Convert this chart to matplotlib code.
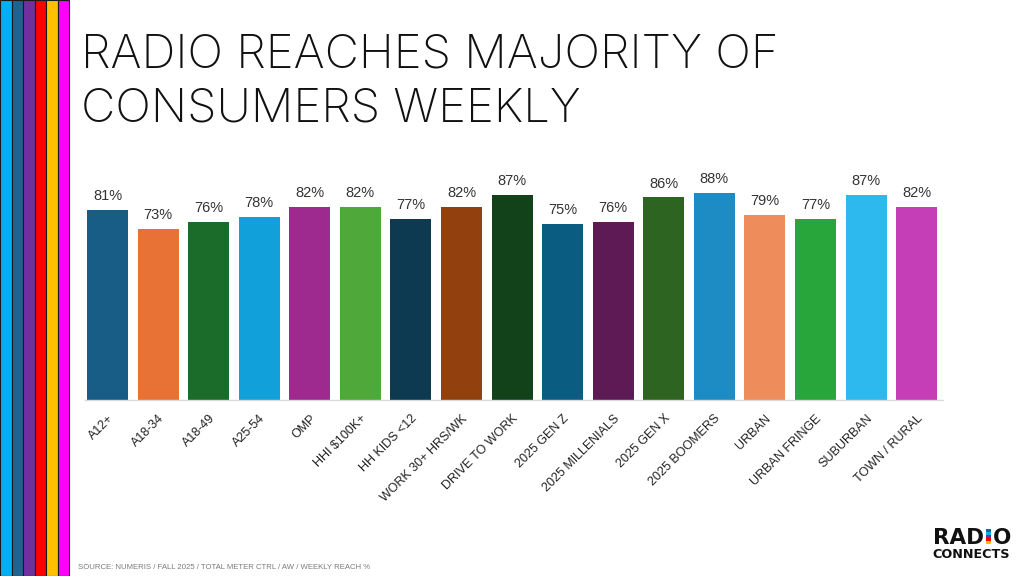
import matplotlib.pyplot as plt
from matplotlib.patches import Rectangle

categories = ['A12+', 'A18-34', 'A18-49', 'A25-54', 'OMP', 'HHI $100K+', 'HH KIDS <12',
              'WORK 30+ HRS/WK', 'DRIVE TO WORK', '2025 GEN Z', '2025 MILLENIALS',
              '2025 GEN X', '2025 BOOMERS', 'URBAN', 'URBAN FRINGE', 'SUBURBAN', 'TOWN / RURAL']
reach = [81, 73, 76, 78, 82, 82, 77, 82, 87, 75, 76, 86, 88, 79, 77, 87, 82]
bar_colors = ['#175D85', '#E87235', '#1B6B2A', '#12A0DA', '#9E2A8F', '#4EA83A', '#0D3A50',
              '#93400F', '#11421A', '#0A5C80', '#5E1A55', '#2E6421', '#1E8CC4', '#EE8C5C',
              '#28A63C', '#2DB9EE', '#C63DB8']
stripe_colors = ['#00B0F0', '#1F6391', '#7030A0', '#FF0000', '#FFC000', '#FF00FF']

W, H = 1024, 576
fig = plt.figure(figsize=(W / 100, H / 100), dpi=100)
fig.patch.set_facecolor('white')

# left decorative stripes
for i, c in enumerate(stripe_colors):
    fig.patches.append(Rectangle((i * 11.5 / W, 0), 11.5 / W, 1, transform=fig.transFigure,
                                 facecolor=c, edgecolor='#1a1a1a', linewidth=0.8))

# title
title_font = dict(family=['Inter', 'DejaVu Sans'], fontweight='light', fontsize=34, color='#111111')
fig.text(81 / W, 1 - 68 / H, 'RADIO REACHES MAJORITY OF', va='baseline', ha='left', **title_font)
fig.text(81 / W, 1 - 121 / H, 'CONSUMERS WEEKLY', va='baseline', ha='left', **title_font)

# chart area
ymin, ymax = 3, 95
px_per = 2.44
base_px = 400
top_px = base_px - (ymax - ymin) * px_per
ax = fig.add_axes([85 / W, 1 - base_px / H, (943 - 85) / W, (base_px - top_px) / H])
x = list(range(len(categories)))
ax.bar(x, reach, width=0.81, color=bar_colors)
ax.set_xlim(-0.445, 16.52)
ax.set_ylim(ymin, ymax)

for xi, v in zip(x, reach):
    ax.annotate(f'{v}%', xy=(xi, v), xytext=(0, 5), textcoords='offset points',
                ha='center', va='bottom', fontsize=10.5, color='#333333',
                family='Liberation Sans')

ax.set_xticks(x)
ax.set_xticklabels(categories, rotation=45, ha='right', rotation_mode='anchor',
                   fontsize=9, color='#222222', family='Liberation Sans')
ax.tick_params(axis='x', length=0, pad=9)
ax.set_yticks([])
for s in ['top', 'right', 'left']:
    ax.spines[s].set_visible(False)
ax.spines['bottom'].set_color('#D9D9D9')
ax.spines['bottom'].set_linewidth(1)

# source
fig.text(78 / W, 1 - 569 / H, 'SOURCE: NUMERIS / FALL 2025 / TOTAL METER CTRL / AW / WEEKLY REACH %',
         fontsize=5.6, color='#7a7a7a', ha='left', va='baseline', family='Liberation Sans')

# logo
logo = dict(fontweight='bold', color='#111111', family='DejaVu Sans', va='baseline')
fig.text(984 / W, 1 - 544 / H, 'RAD', ha='right', fontsize=15.5, **logo)
fig.text(993 / W, 1 - 544 / H, 'O', ha='left', fontsize=15.5, **logo)
i_cols = ['#1F6391', '#00B0F0', '#7030A0', '#FF0000', '#FFC000']
for k, c in enumerate(i_cols):
    fig.patches.append(Rectangle((986 / W, 1 - (529 + 3 * (k + 1)) / H), 4.5 / W, 3 / H,
                                 transform=fig.transFigure, facecolor=c, edgecolor='none'))
fig.text(1010 / W, 1 - 558 / H, 'CONNECTS', ha='right', fontsize=9.2, **logo)

fig.savefig('out.png', dpi=100, facecolor='white')
